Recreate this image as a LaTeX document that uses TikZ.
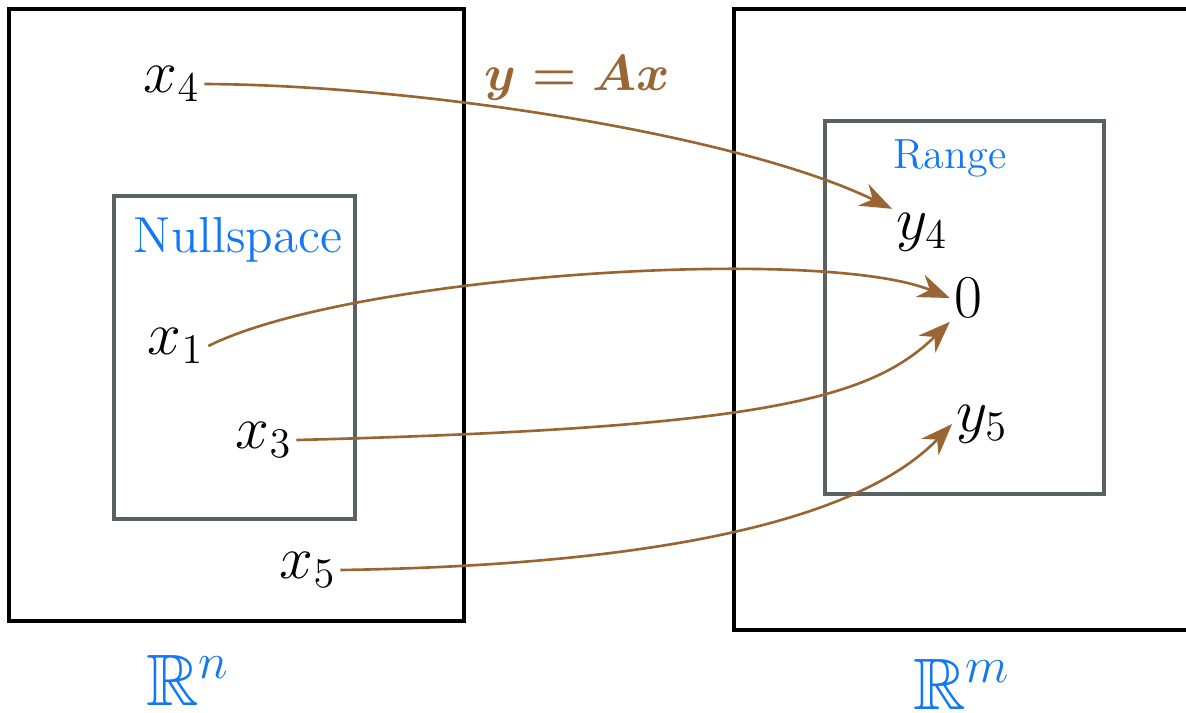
\documentclass[tikz,border=0pt]{standalone}
\usepackage{amsmath, amssymb}
\usetikzlibrary{arrows.meta}
\definecolor{mapbrown}{RGB}{153,102,51}
\definecolor{subblue}{RGB}{20,120,245}
\definecolor{subgray}{RGB}{88,98,98}
\begin{document}
\begin{tikzpicture}[
    space/.style={draw=black, line width=1.2pt},
    subspace/.style={draw=subgray, line width=1.2pt},
    vec/.style={font=\LARGE, inner sep=1pt},
    sublabel/.style={text=subblue},
    map/.style={mapbrown, line width=0.75pt, -{Stealth[length=3.2mm, width=2.4mm]}}
  ]
        \useasboundingbox (0,0) rectangle (11.86,-7.12);
        % Espaços R^n e R^m
        \draw[space] (0.09,-0.09) rectangle (4.64,-6.21);
        \draw[space] (7.34,-0.09) rectangle (12.0,-6.30);
        \node[sublabel, font=\huge] (Rn) at (1.88,-6.80) {$\mathbb{R}^n$};
        \node[sublabel, font=\huge] (Rm) at (9.62,-6.84) {$\mathbb{R}^m$};
        % Núcleo e imagem
        \draw[subspace] (1.14,-1.96) rectangle (3.55,-5.19);
        \draw[subspace] (8.25,-1.21) rectangle (11.04,-4.94);
        \node[sublabel, font=\Large] (null) at (2.38,-2.40) {Nullspace};
        \node[sublabel, font=\large] (range) at (9.50,-1.58) {Range};
        % Vetores
        \node[vec] (x4) at (1.72,-0.84) {$x_4$};
        \node[vec] (x1) at (1.76,-3.46) {$x_1$};
        \node[vec] (x3) at (2.64,-4.40) {$x_3$};
        \node[vec] (x5) at (3.08,-5.70) {$x_5$};
        \node[vec] (y4) at (9.22,-2.32) {$y_4$};
        \node[vec] (zero) at (9.68,-2.98) {$0$};
        \node[vec] (y5) at (9.82,-4.24) {$y_5$};
        \node[text=mapbrown, font=\Large\boldmath] (eq) at (5.77,-0.78) {$y=Ax$};
        % Setas
        \draw[map] (x4.east) .. controls (4.2,-0.85) and (7.4,-1.35) .. (y4.north west);
        \draw[map] (x1.east) .. controls (3.5,-2.75) and (8.2,-2.45) .. (zero.west);
        \draw[map] (x3.east) .. controls (7.6,-4.28) and (8.7,-4.00) .. (zero.south west);
        \draw[map] (x5.east) .. controls (6.6,-5.65) and (8.6,-5.20) .. (y5.west);
    \end{tikzpicture}
\end{document}
